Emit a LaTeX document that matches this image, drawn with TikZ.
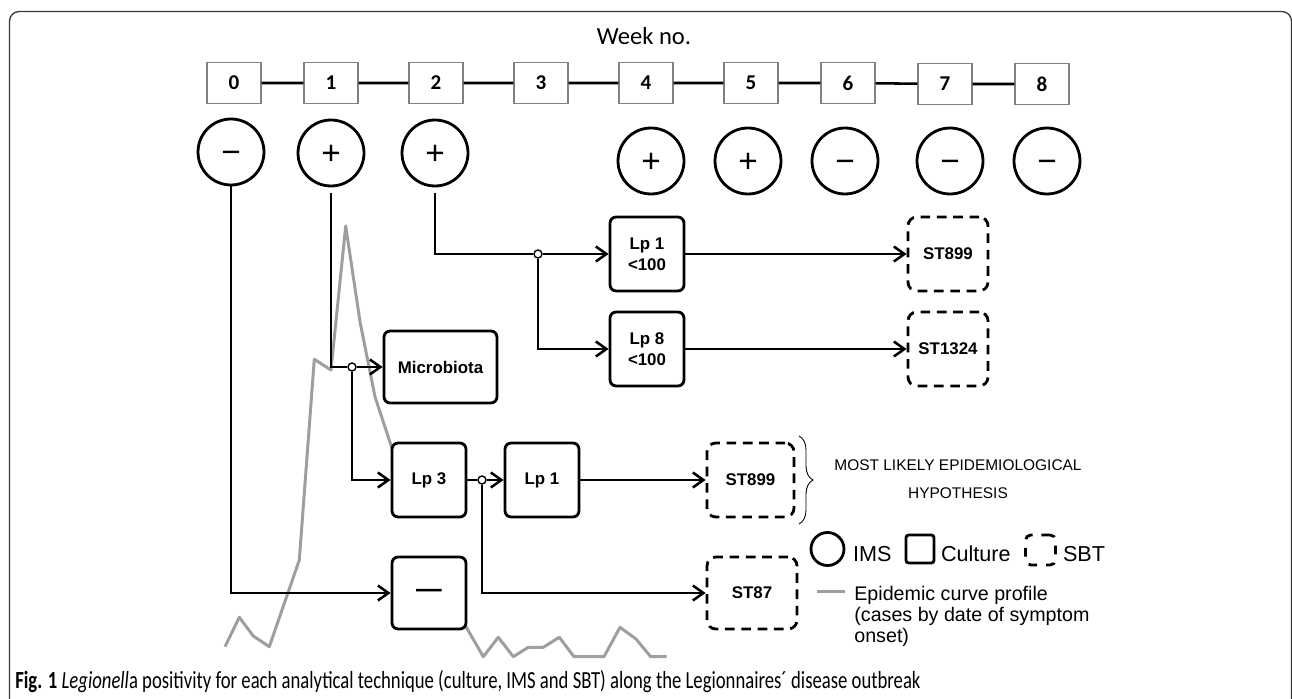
\documentclass[tikz,border=0pt]{standalone}
\usepackage{fontspec}
\setmainfont{Liberation Sans}
\newfontfamily\calfont{Carlito}
\usetikzlibrary{arrows.meta,backgrounds,decorations.pathreplacing}
\definecolor{curvegray}{RGB}{158,158,158}
\definecolor{framegray}{RGB}{55,55,55}
\tikzset{
  weekbox/.style={draw=gray, line width=0.6pt, fill=white, minimum width=1.08cm, minimum height=0.82cm, inner sep=0pt, font=\calfont\bfseries\fontsize{12}{12}\selectfont},
  ims/.style={circle, draw, line width=1.6pt, fill=white, minimum size=1.32cm, inner sep=0pt, text height=13.4pt, text depth=0pt, font=\fontsize{19}{20}\selectfont},
  culture/.style={draw, rounded corners=3.5pt, line width=1.6pt, fill=white, inner sep=0pt, minimum width=1.48cm, minimum height=1.48cm, align=center, font=\bfseries\fontsize{9.6}{11.8}\selectfont},
  sbt/.style={culture, dash pattern=on 5.5pt off 3.8pt, rounded corners=5pt},
  junc/.style={circle, draw, fill=white, line width=0.8pt, inner sep=0pt, minimum size=0.16cm},
  link/.style={line width=1.45pt},
  arr/.style={link, -{Straight Barb[length=6pt,width=8.5pt]}},
  legtext/.style={anchor=base west, inner sep=0pt, font=\fontsize{12.3}{14}\selectfont}
}
\begin{document}
\begin{tikzpicture}[x=0.02cm, y=-0.02cm]
      \useasboundingbox (0,0) rectangle (1292,699);
      \draw[framegray, line width=0.75pt, rounded corners=5.5pt] (9.5,710) -- (9.5,11.5) -- (1291.5,11.5) -- (1291.5,710);
      \node[anchor=base, inner sep=0pt, font=\calfont\fontsize{14}{16}\selectfont] (weekno) at (644,45) {Week no.};
      \node[weekbox] (w0) at ( 234,83) {0};
      \node[weekbox] (w1) at ( 331,83) {1};
      \node[weekbox] (w2) at ( 436,83) {2};
      \node[weekbox] (w3) at ( 541,83) {3};
      \node[weekbox] (w4) at ( 646,83) {4};
      \node[weekbox] (w5) at ( 751,83) {5};
      \node[weekbox] (w6) at ( 848,83) {6};
      \node[weekbox] (w7) at ( 945,84) {7};
      \node[weekbox] (w8) at (1042,84) {8};
      \draw[link] (w0) -- (w1) (w1) -- (w2) (w2) -- (w3) (w3) -- (w4) (w4) -- (w5) (w5) -- (w6) (w6) -- (w7) (w7) -- (w8);
      \node[ims] (i0) at ( 231,152) {−};
      \node[ims] (i1) at ( 331,153) {+};
      \node[ims] (i2) at ( 435,153) {+};
      \node[ims] (i4) at ( 651,161) {+};
      \node[ims] (i5) at ( 748,161) {+};
      \node[ims] (i6) at ( 845,161) {−};
      \node[ims] (i7) at ( 950,161) {−};
      \node[ims] (i8) at (1047,161) {−};
      \node[culture, minimum width=2.26cm, minimum height=1.44cm] (micro) at (440.5,367) {Microbiota};
      \node[culture] (lpa) at (647,254) {Lp 1\\<100};
      \node[culture] (lpb) at (647,349) {Lp 8\\<100};
      \node[culture] (lp3) at (429,480) {Lp 3};
      \node[culture] (lp1) at (542,480) {Lp 1};
      \node[culture, minimum height=1.44cm, font=\bfseries\fontsize{14.6}{16}\selectfont] (neg) at (429,593) {—};
      \node[sbt, minimum width=1.6cm] (sta) at (948,254) {ST899};
      \node[sbt, minimum width=1.6cm] (stb) at (948,349) {ST1324};
      \node[sbt, minimum width=1.74cm] (stc) at (750.5,480) {ST899};
      \node[sbt, minimum width=1.8cm, minimum height=1.44cm] (std) at (752,593) {ST87};
      \node[junc] (j2) at (538,254) {};
      \node[junc] (j1) at (352,367) {};
      \node[junc] (j3) at (482,480) {};
      \draw[link, shorten <=3.4pt] (i2.south) |- (j2);
      \draw[arr] (j2) -- (lpa);
      \draw[arr] (j2) |- (lpb);
      \draw[arr] (lpa) -- (sta);
      \draw[arr] (lpb) -- (stb);
      \draw[link, shorten <=3.4pt] (i1.south) |- (j1);
      \draw[arr] (j1) -- (micro);
      \draw[arr] (j1) |- (lp3);
      \draw[link] (lp3) -- (j3);
      \draw[arr] (j3) -- (lp1);
      \draw[arr] (lp1) -- (stc);
      \draw[arr] (j3) |- (std);
      \draw[arr] (i0.south) |- (neg);
      \begin{scope}[on background layer]
      \draw[curvegray, line width=1.7pt, line join=round] (225,646.7) -- (239.3,617.3) -- (253.3,636) -- (269.3,646.7) -- (299.3,560) -- (314.3,359.3) -- (331,370) -- (345.7,226) -- (360,321.7) -- (375,396.7) -- (392.3,449.3) -- (400,473);
      \draw[curvegray, line width=1.7pt, line join=round] (452,595) -- (465,625) -- (483.3,656.7) -- (498.3,637.3) -- (513.3,656.7) -- (528.3,647.3) -- (543.3,647.3) -- (559.3,637.3) -- (574,656.7) -- (604,656.7) -- (620,627.3) -- (636,639) -- (650.7,656.7) -- (666.7,656.7);
      \end{scope}
      \draw[decorate, decoration={brace, amplitude=8pt}, line width=0.5pt] (799,436) -- (799,524);
      \node[align=center, inner sep=0pt, font=\fontsize{8.8}{16.3}\selectfont] (hyp) at (958,479) {MOST LIKELY EPIDEMIOLOGICAL\\HYPOTHESIS};
      \node[circle, draw, line width=1.6pt, minimum size=0.66cm, inner sep=0pt] (lgims) at (827.5,549) {};
      \node[legtext] (lgimstext) at (852.7,561.7) {IMS};
      \node[draw, line width=1.6pt, rounded corners=1.5pt, minimum size=0.56cm, inner sep=0pt] (lgcul) at (920,549) {};
      \node[legtext] (lgcultext) at (940.7,561.7) {Culture};
      \node[draw, line width=1.6pt, dash pattern=on 5pt off 5pt, rounded corners=3pt, minimum size=0.6cm, inner sep=0pt] (lgsbt) at (1040.5,550) {};
      \node[legtext] (lgsbttext) at (1062.7,561.7) {SBT};
      \coordinate (lgcurvea) at (816.7,591.7);
      \coordinate (lgcurveb) at (845,591.7);
      \draw[curvegray, line width=1.7pt] (lgcurvea) -- (lgcurveb);
      \node[anchor=north west, align=left, inner sep=0pt, font=\fontsize{11.2}{12.2}\selectfont] (lgcurvetext) at (854,585.5) {Epidemic curve profile\\(cases by date of symptom\\onset)};
      \node[anchor=base west, inner sep=0pt, xscale=0.76, font=\calfont\fontsize{14}{16}\selectfont] (caption) at (15,688) {\textbf{Fig. 1} \textit{Legionell}a positivity for each analytical technique (culture, IMS and SBT) along the Legionnaires´ disease outbreak};
     \end{tikzpicture}
\end{document}
